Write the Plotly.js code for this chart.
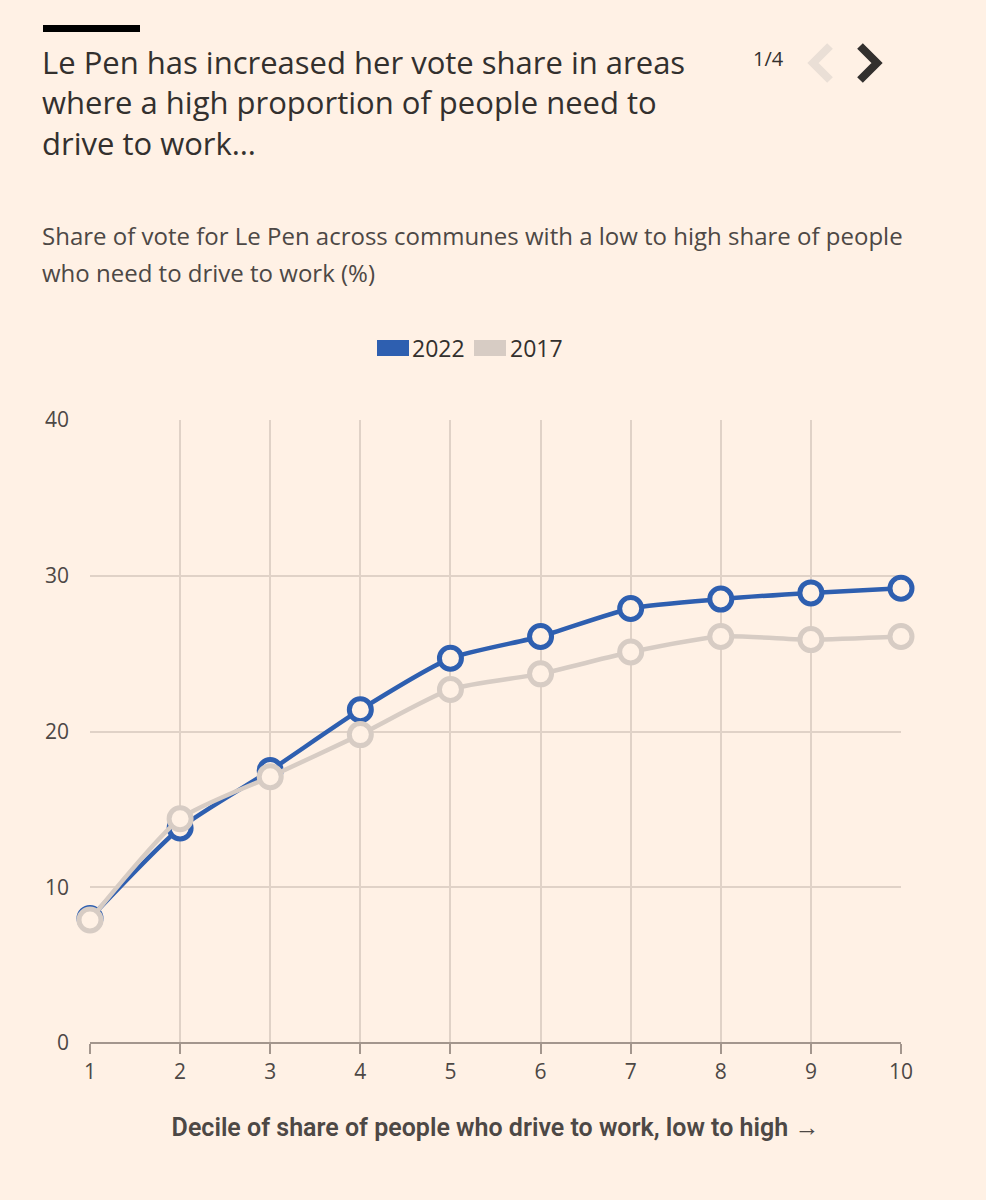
<!DOCTYPE html>
<html>
<head>
<meta charset="utf-8">
<script src="https://cdn.plot.ly/plotly-3.0.1.min.js"></script>
<style>
  html, body { margin: 0; padding: 0; background: #fff1e5; }
  #chart { width: 986px; height: 1200px; }
</style>
</head>
<body>
<div id="chart"></div>
<script>
// ---- Data ----
var deciles = [1, 2, 3, 4, 5, 6, 7, 8, 9, 10];
var share2022 = [8.0, 13.8, 17.5, 21.4, 24.7, 26.1, 27.9, 28.5, 28.9, 29.2];
var share2017 = [7.9, 14.4, 17.1, 19.8, 22.7, 23.7, 25.1, 26.1, 25.9, 26.1];
var yTicks = [0, 10, 20, 30, 40];
var seriesNames = ['2022', '2017'];

// ---- Layout helpers (pixel -> paper) ----
var W = 986, H = 1200;
var L = 90, R = 901, T = 420, B = 1043;
function px(x) { return (x - L) / (R - L); }
function py(y) { return (B - y) / (B - T); }

var BG = '#fff1e5';
var BLUE = '#2e5fb0';
var GREY = '#d7ccc4';
var GRID = '#e0d2c7';
var TEXT = '#33302e';
var SUB = '#4d4845';
var FONT = '"Open Sans", "Noto Sans", sans-serif';
var FONT2 = 'Roboto, "Noto Sans", sans-serif';

var traces = [
  {
    x: deciles, y: share2022, name: seriesNames[0], type: 'scatter', mode: 'lines+markers',
    line: { color: BLUE, width: 4.5, shape: 'spline', smoothing: 0.6 },
    marker: { size: 22, color: BG, line: { color: BLUE, width: 5 } },
    cliponaxis: false, showlegend: false, hoverinfo: 'x+y'
  },
  {
    x: deciles, y: share2017, name: seriesNames[1], type: 'scatter', mode: 'lines+markers',
    line: { color: GREY, width: 4.5, shape: 'spline', smoothing: 0.6 },
    marker: { size: 22, color: BG, line: { color: GREY, width: 5 } },
    cliponaxis: false, showlegend: false, hoverinfo: 'x+y'
  }
];

function ann(text, x, y, size, color, opts) {
  var a = {
    text: text, xref: 'paper', yref: 'paper', x: px(x), y: py(y),
    xanchor: 'left', yanchor: 'middle', showarrow: false, align: 'left',
    font: { family: FONT, size: size, color: color }
  };
  if (opts) for (var k in opts) a[k] = opts[k];
  return a;
}

var annotations = [
  ann('Le Pen has increased her vote share in areas<br>where a high proportion of people need to<br>drive to work…', 40, 103, 31, TEXT),
  ann('Share of vote for Le Pen across communes with a low to high share of people', 40, 236, 24, SUB),
  ann('who need to drive to work (%)', 40, 272, 24, SUB),
  ann('1/4', 751, 58, 20, TEXT),
  ann(seriesNames[0], 410, 348, 23, TEXT),
  ann(seriesNames[1], 508, 348, 23, TEXT)
];

var shapes = [
  // top black rule
  { type: 'rect', xref: 'paper', yref: 'paper', x0: px(43), x1: px(140), y0: py(25), y1: py(32),
    fillcolor: '#000000', line: { width: 0 } },
  // chevrons
  { type: 'path', xref: 'paper', yref: 'paper',
    path: 'M ' + px(830) + ' ' + py(46) + ' L ' + px(813) + ' ' + py(63) + ' L ' + px(830) + ' ' + py(80),
    line: { color: '#eadfd6', width: 8 } },
  { type: 'path', xref: 'paper', yref: 'paper',
    path: 'M ' + px(860) + ' ' + py(46) + ' L ' + px(877) + ' ' + py(63) + ' L ' + px(860) + ' ' + py(80),
    line: { color: TEXT, width: 8 } },
  // legend swatches
  { type: 'rect', xref: 'paper', yref: 'paper', x0: px(377), x1: px(409), y0: py(340), y1: py(356),
    fillcolor: BLUE, line: { width: 0 } },
  { type: 'rect', xref: 'paper', yref: 'paper', x0: px(474), x1: px(506), y0: py(340), y1: py(356),
    fillcolor: GREY, line: { width: 0 } }
];

var layout = {
  width: W, height: H,
  paper_bgcolor: BG, plot_bgcolor: BG,
  margin: { l: L, r: W - R, t: T, b: H - B, pad: 0 },
  font: { family: FONT, color: SUB },
  showlegend: false,
  xaxis: {
    range: [1, 10], tickvals: deciles, ticktext: deciles.map(String),
    showgrid: true, gridcolor: GRID, gridwidth: 2,
    zeroline: false, showline: false,
    ticks: 'outside', ticklen: 10, tickwidth: 2, tickcolor: '#a3968d',
    tickfont: { family: FONT, size: 21, color: SUB },
    title: { text: 'Decile of share of people who drive to work, low to high →',
             font: { family: FONT2, size: 25, color: SUB, weight: 600 }, standoff: 34 },
    fixedrange: true
  },
  yaxis: {
    range: [0, 40], tickvals: yTicks, ticktext: yTicks.map(String),
    showgrid: true, gridcolor: GRID, gridwidth: 2,
    zeroline: true, zerolinecolor: '#a3968d', zerolinewidth: 2.5,
    showline: false, ticks: '', ticklabelstandoff: 20,
    tickfont: { family: FONT, size: 21, color: SUB },
    fixedrange: true
  },
  annotations: annotations,
  shapes: shapes
};

Plotly.newPlot('chart', traces, layout, { displayModeBar: false, staticPlot: true });
</script>
</body>
</html>
